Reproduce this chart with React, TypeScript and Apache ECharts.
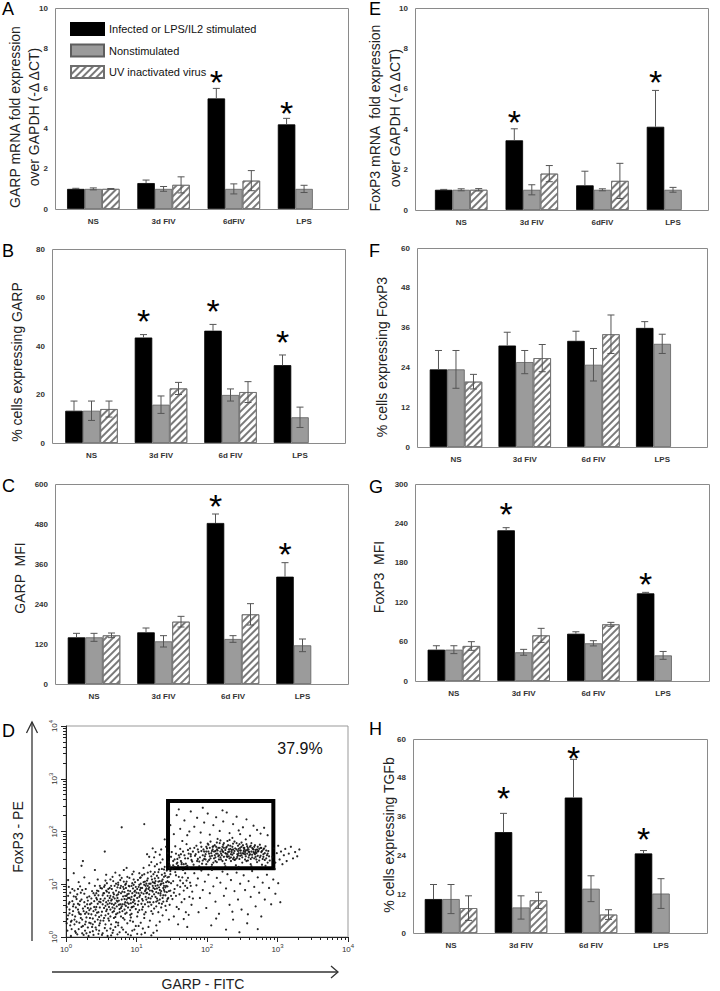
import React, { useEffect, useRef } from "react";
import * as echarts from "echarts";

const FONT = "'Liberation Sans', Arial, sans-serif";

// ---------- shared names ----------
const SERIES_NAMES = ["Infected or LPS/IL2 stimulated", "Nonstimulated", "UV inactivated virus"];
const CATS_MRNA = ["NS", "3d FIV", "6dFIV", "LPS"];
const CATS_FLOW = ["NS", "3d FIV", "6d FIV", "LPS"];

// ---------- A: GARP mRNA ----------
const garpMrnaInfected = [1.0, 1.29, 5.5, 4.21];
const garpMrnaInfectedErr = [0.03, 0.15, 0.5, 0.3];
const garpMrnaNonstim = [1.0, 1.0, 1.0, 1.0];
const garpMrnaNonstimErr = [0.05, 0.12, 0.25, 0.18];
const garpMrnaUV: (number | string)[] = [1.0, 1.2, 1.41, "-"];
const garpMrnaUVErr = [0.02, 0.4, 0.5, 0];
const garpMrnaStars: (number | string)[] = ["-", "-", 6.67, 5.17];

// ---------- E: FoxP3 mRNA ----------
const foxp3MrnaInfected = [1.0, 3.45, 1.22, 4.12];
const foxp3MrnaInfectedErr = [0.02, 0.57, 0.7, 1.8];
const foxp3MrnaNonstim = [1.0, 1.0, 1.0, 1.0];
const foxp3MrnaNonstimErr = [0.05, 0.25, 0.05, 0.12];
const foxp3MrnaUV: (number | string)[] = [1.0, 1.8, 1.44, "-"];
const foxp3MrnaUVErr = [0.06, 0.4, 0.87, 0];
const foxp3MrnaStars: (number | string)[] = ["-", 4.71, "-", 6.69];

// ---------- B: % cells expressing GARP ----------
const garpPctInfected = [13.3, 43.5, 46.3, 32.1];
const garpPctInfectedErr = [4.0, 1.2, 2.6, 4.2];
const garpPctNonstim = [13.3, 15.8, 19.8, 10.6];
const garpPctNonstimErr = [4.0, 3.6, 2.5, 4.2];
const garpPctUV: (number | string)[] = [14.0, 22.5, 21.0, "-"];
const garpPctUVErr = [3.3, 2.5, 4.3, 0];
const garpPctStars: (number | string)[] = ["-", 53.5, 57.6, 44.8];

// ---------- F: % cells expressing FoxP3 ----------
const foxp3PctInfected = [23.4, 30.6, 32.0, 35.9];
const foxp3PctInfectedErr = [5.7, 4.0, 2.9, 1.9];
const foxp3PctNonstim = [23.4, 25.6, 24.8, 31.1];
const foxp3PctNonstimErr = [5.7, 3.5, 4.9, 2.9];
const foxp3PctUV: (number | string)[] = [19.7, 26.8, 34.0, "-"];
const foxp3PctUVErr = [2.2, 4.1, 5.8, 0];

// ---------- C: GARP MFI ----------
const garpMfiInfected = [140, 155, 483, 322];
const garpMfiInfectedErr = [12, 13, 27, 42];
const garpMfiNonstim = [140, 128, 135, 116];
const garpMfiNonstimErr = [12, 17, 10, 19];
const garpMfiUV: (number | string)[] = [146, 187, 209, "-"];
const garpMfiUVErr = [7, 16, 32, 0];
const garpMfiStars: (number | string)[] = ["-", "-", 557, 412];

// ---------- G: FoxP3 MFI ----------
const foxp3MfiInfected = [47.7, 229.5, 72, 133.5];
const foxp3MfiInfectedErr = [6, 4, 3, 1.5];
const foxp3MfiNonstim = [47.7, 43.7, 57.4, 39];
const foxp3MfiNonstimErr = [6, 4.5, 4, 6];
const foxp3MfiUV: (number | string)[] = [53.3, 69.5, 86.3, "-"];
const foxp3MfiUVErr = [6.6, 10.7, 3, 0];
const foxp3MfiStars: (number | string)[] = ["-", 265, "-", 159];

// ---------- H: % cells expressing TGFb ----------
const tgfbPctInfected = [10.5, 31.2, 41.9, 24.6];
const tgfbPctInfectedErr = [4.5, 5.8, 11.8, 0.9];
const tgfbPctNonstim = [10.5, 7.9, 13.7, 12.2];
const tgfbPctNonstimErr = [4.5, 3.6, 4.0, 4.6];
const tgfbPctUV: (number | string)[] = [7.7, 10.1, 5.7, "-"];
const tgfbPctUVErr = [3.8, 2.5, 1.5, 0];
const tgfbPctStars: (number | string)[] = ["-", 44.0, 56.4, 31.3];

// ---------- D: flow cytometry dot plot (log10 of GARP-FITC, log10 of FoxP3-PE) ----------
const facsTicks = [1, 10, 100, 1000, 10000];
const gateGarp = [28, 873];
const gateFoxp3 = [20, 378];
const gatePercent = "37.9%";
const facsEventsLog: number[][] = [
  [0.02,0.12],[0.05,0.45],[0.03,0.78],[0.08,0.31],[0.11,0.62],[0.04,0.95],[0.14,0.08],[0.17,0.52],[0.12,0.88],[0.19,0.27],
  [0.22,0.71],[0.25,0.04],[0.21,0.43],[0.28,0.91],[0.31,0.18],[0.27,0.58],[0.34,0.36],[0.33,0.77],[0.38,0.11],[0.36,0.64],
  [0.41,0.29],[0.43,0.83],[0.39,0.49],[0.46,0.06],[0.48,0.56],[0.44,0.71],[0.47,0.22],[0.49,0.93],[0.06,0.22],[0.09,0.68],
  [0.13,0.39],[0.16,0.81],[0.18,0.15],[0.23,0.33],[0.26,0.66],[0.29,0.47],[0.32,0.02],[0.35,0.54],[0.37,0.87],[0.42,0.41],
  [0.45,0.63],[0.01,0.57],[0.07,0.02],[0.10,0.49],[0.15,0.72],[0.20,0.96],[0.24,0.21],[0.30,0.75],[0.33,0.27],[0.40,0.68],
  [0.43,0.14],[0.47,0.38],[0.02,0.34],[0.12,0.24],[0.17,0.63],[0.21,0.84],[0.27,0.12],[0.31,0.55],[0.36,0.43],[0.41,0.97],
  [0.46,0.79],[0.49,0.31],[0.05,0.66],[0.09,0.91],[0.14,0.56],[0.19,0.44],[0.23,0.07],[0.29,0.37],[0.34,0.62],[0.38,0.24],
  [0.03,1.08],[0.11,1.21],[0.18,1.04],[0.26,1.13],[0.33,1.02],[0.41,1.27],[0.45,1.09],[0.22,1.35],
  [0.51,0.48],[0.53,0.83],[0.55,0.17],[0.57,0.66],[0.58,1.02],[0.60,0.35],[0.62,0.74],[0.63,0.52],[0.65,0.91],[0.66,0.08],
  [0.68,0.61],[0.69,0.97],[0.71,0.43],[0.72,0.79],[0.74,0.27],[0.75,0.69],[0.77,1.08],[0.78,0.55],[0.80,0.86],[0.81,0.14],
  [0.83,0.72],[0.84,0.99],[0.86,0.46],[0.87,0.81],[0.89,0.63],[0.90,1.12],[0.92,0.37],[0.93,0.76],[0.95,0.92],[0.96,0.58],
  [0.98,1.04],[0.99,0.21],[0.52,0.62],[0.54,0.95],[0.56,0.41],[0.59,0.78],[0.61,0.57],[0.64,0.24],[0.67,0.84],[0.70,0.64],
  [0.73,0.94],[0.76,0.47],[0.79,0.71],[0.82,1.05],[0.85,0.59],[0.88,0.88],[0.91,0.51],[0.94,0.83],[0.97,0.69],[0.99,0.95],
  [0.53,0.31],[0.57,0.88],[0.60,0.69],[0.63,1.09],[0.66,0.47],[0.69,0.73],[0.72,0.58],[0.75,0.85],[0.78,0.39],[0.81,0.95],
  [0.84,0.66],[0.87,1.14],[0.90,0.74],[0.93,0.44],[0.96,1.09],[0.98,0.79],[0.55,0.73],[0.58,0.12],[0.62,0.93],[0.65,0.63],
  [0.68,0.36],[0.71,1.01],[0.74,0.81],[0.77,0.62],[0.80,0.49],[0.83,0.85],[0.86,0.71],[0.89,0.97],[0.92,0.64],[0.95,0.29],
  [0.97,0.86],[0.51,0.04],[0.64,0.03],[0.76,0.09],[0.88,0.05],[0.57,1.18],[0.70,1.22],[0.82,1.27],[0.94,1.19],[0.86,1.31],
  [0.60,0.91],[0.73,0.67],[0.85,0.93],[0.67,0.76],[0.79,1.12],[0.91,0.87],[0.54,0.55],[0.70,0.19],[0.83,0.33],[0.96,0.71],
  [1.01,0.74],[1.02,1.08],[1.04,0.51],[1.05,0.89],[1.07,0.63],[1.08,1.17],[1.10,0.82],[1.11,0.36],[1.13,0.97],[1.14,0.71],
  [1.16,1.11],[1.17,0.58],[1.19,0.88],[1.20,1.24],[1.22,0.77],[1.23,0.44],[1.25,1.03],[1.26,0.91],[1.28,0.67],[1.29,1.16],
  [1.31,0.83],[1.32,1.28],[1.34,0.99],[1.35,0.56],[1.37,1.09],[1.38,0.79],[1.40,1.21],[1.41,0.94],[1.43,0.68],[1.44,1.13],
  [1.46,0.87],[1.47,1.31],[1.49,1.02],[1.03,0.95],[1.06,0.27],[1.09,0.69],[1.12,1.05],[1.15,0.84],[1.18,1.01],[1.21,0.61],
  [1.24,1.19],[1.27,0.76],[1.30,0.98],[1.33,0.71],[1.36,1.18],[1.39,0.89],[1.42,1.04],[1.45,0.74],[1.48,1.19],[1.02,0.61],
  [1.05,0.79],[1.08,0.93],[1.11,1.19],[1.14,0.92],[1.17,0.74],[1.20,1.01],[1.23,0.86],[1.26,1.11],[1.29,0.92],[1.32,0.64],
  [1.35,0.87],[1.38,1.02],[1.41,0.79],[1.44,0.96],[1.47,0.61],[1.04,1.21],[1.10,1.31],[1.18,1.36],[1.26,1.34],[1.34,1.41],
  [1.09,0.16],[1.19,0.31],[1.28,0.22],[1.37,0.41],[1.46,0.33],[1.13,0.47],[1.25,0.54],[1.42,0.51],[1.06,1.01],[1.16,0.97],
  [1.22,1.09],[1.31,1.05],[1.39,1.14],[1.48,0.88],[1.12,0.87],[1.27,0.97],[1.43,1.26],[1.07,0.05],[1.24,0.08],[1.36,0.63],
  [1.51,0.72],[1.52,1.06],[1.54,0.91],[1.55,1.23],[1.57,0.57],[1.58,0.98],[1.60,1.14],[1.61,0.81],[1.63,1.29],[1.64,0.66],
  [1.66,1.02],[1.67,0.88],[1.69,1.21],[1.70,0.47],[1.72,0.93],[1.73,1.12],[1.75,0.76],[1.76,1.03],[1.78,0.61],[1.79,0.86],
  [1.53,0.39],[1.56,0.78],[1.59,0.24],[1.62,0.95],[1.65,1.13],[1.68,0.72],[1.71,1.07],[1.74,0.42],[1.77,0.97],[1.80,0.73],
  [1.52,1.36],[1.58,1.41],[1.64,1.38],[1.53,0.84],[1.60,0.53],[1.67,0.34],[1.72,0.19],[1.56,1.17],[1.62,1.07],[1.69,0.97],
  [1.21,1.42],[1.25,1.51],[1.29,1.38],[1.33,1.56],[1.37,1.47],[1.40,1.33],[1.44,1.59],[1.46,1.42],[1.49,1.52],[1.51,1.29],
  [1.54,1.47],[1.56,1.58],[1.59,1.35],[1.61,1.51],[1.63,1.44],[1.66,1.27],[1.68,1.55],[1.70,1.39],[1.73,1.49],[1.75,1.31],
  [1.77,1.57],[1.79,1.43],[1.31,1.23],[1.39,1.28],[1.48,1.25],[1.27,1.61],[1.35,1.66],[1.42,1.71],[1.18,1.52],[1.23,1.68],
  [1.47,1.36],[1.50,1.61],[1.52,1.44],[1.55,1.72],[1.57,1.39],[1.60,1.55],[1.62,1.67],[1.64,1.41],[1.66,1.62],[1.69,1.49],
  [1.71,1.76],[1.72,1.35],[1.74,1.58],[1.76,1.68],[1.78,1.46],[1.80,1.62],[1.81,1.37],[1.83,1.54],[1.85,1.73],[1.86,1.44],
  [1.88,1.61],[1.90,1.51],[1.91,1.79],[1.93,1.39],[1.95,1.66],[1.96,1.48],[1.98,1.57],[1.99,1.71],[2.01,1.43],[2.02,1.62],
  [2.04,1.53],[2.05,1.81],[2.07,1.37],[2.08,1.66],[2.10,1.49],[2.11,1.74],[2.13,1.58],[2.14,1.42],[2.16,1.69],[2.17,1.55],
  [2.19,1.83],[2.20,1.47],[2.22,1.63],[2.23,1.75],[2.25,1.39],[2.26,1.59],[2.28,1.71],[2.29,1.52],[2.31,1.66],[2.32,1.84],
  [2.34,1.44],[2.35,1.61],[2.37,1.77],[2.38,1.51],[2.40,1.68],[2.41,1.36],[2.43,1.57],[2.44,1.73],[2.46,1.48],[2.47,1.64],
  [2.49,1.79],[2.50,1.41],[2.52,1.58],[2.53,1.69],[2.55,1.53],[2.56,1.76],[2.58,1.45],[2.59,1.62],[2.61,1.71],[2.62,1.38],
  [2.64,1.56],[2.65,1.67],[2.67,1.49],[2.68,1.74],[2.70,1.59],[2.71,1.42],[2.73,1.63],[2.75,1.51],[2.76,1.69],[2.78,1.37],
  [2.80,1.57],[2.82,1.46],[2.84,1.64],[2.86,1.41],[2.88,1.53],
  [1.97,1.53],[2.00,1.68],[2.03,1.46],[2.06,1.59],[2.09,1.72],[2.12,1.51],[2.15,1.64],[2.18,1.78],[2.21,1.55],[2.24,1.69],
  [2.27,1.46],[2.30,1.61],[2.33,1.73],[2.36,1.56],[2.39,1.81],[2.42,1.49],[2.45,1.67],[2.48,1.59],[2.51,1.74],[2.54,1.47],
  [2.57,1.65],[2.60,1.55],[2.63,1.78],[2.66,1.61],[2.69,1.52],[2.72,1.71],[2.74,1.45],[2.77,1.61],[2.81,1.68],[2.85,1.55],
  [2.02,1.75],[2.07,1.54],[2.12,1.63],[2.17,1.47],[2.22,1.71],[2.27,1.58],[2.32,1.49],[2.37,1.66],[2.42,1.78],[2.47,1.54],
  [2.52,1.63],[2.57,1.72],[2.62,1.48],[2.67,1.59],[2.72,1.54],[2.79,1.48],[2.83,1.72],[2.87,1.63],[1.58,1.48],[1.63,1.57],
  [1.67,1.38],[1.73,1.65],[1.77,1.53],[1.82,1.69],[1.87,1.48],[1.92,1.63],[1.94,1.45],[1.99,1.38],[2.04,1.69],[2.09,1.41],
  [2.14,1.79],[2.19,1.62],[2.24,1.52],[2.29,1.82],[2.34,1.57],[2.39,1.46],[2.44,1.63],[2.49,1.71],[2.54,1.61],[2.59,1.51],
  [2.64,1.69],[2.69,1.65],[2.75,1.75],[2.80,1.66],[2.89,1.45],[1.54,1.33],[1.70,1.33],[1.89,1.34],[2.06,1.33],[2.26,1.34],
  [2.45,1.33],[2.63,1.34],[2.83,1.35],[2.15,1.86],[2.36,1.88],[2.55,1.85],
  [1.48,2.12],[1.53,1.95],[1.57,2.31],[1.62,2.05],[1.68,2.21],[1.72,1.93],[1.77,2.38],[1.82,2.09],[1.86,2.26],[1.91,1.98],
  [1.96,2.17],[2.01,2.34],[2.04,1.94],[2.09,2.12],[2.13,2.27],[2.18,2.01],[2.23,2.19],[2.28,2.36],[2.32,1.97],[2.37,2.14],
  [2.42,2.28],[2.47,1.95],[2.51,2.08],[2.56,2.23],[2.61,1.92],[2.66,2.11],[2.71,2.03],[2.76,1.96],[2.81,2.07],[2.86,1.93],
  [1.60,2.42],[1.94,2.45],[2.22,2.40],[1.75,2.00],[2.45,2.02],
  [2.93,1.52],[2.95,1.68],[2.97,1.41],[2.99,1.59],[3.01,1.73],[3.03,1.47],[3.05,1.62],[3.07,1.38],[3.09,1.55],[3.11,1.67],
  [3.13,1.44],[3.16,1.58],[3.19,1.71],[3.22,1.49],[3.25,1.61],[3.28,1.53],[3.31,1.66],[2.96,1.29],
  [1.82,1.21],[1.85,0.98],[1.87,1.11],[1.90,0.74],[1.92,1.26],[1.94,0.89],[1.97,1.05],[1.99,0.55],[2.02,1.18],[2.04,0.83],
  [2.07,1.27],[2.09,0.96],[2.12,0.67],[2.14,1.12],[2.17,0.44],[2.19,1.03],[2.22,1.24],[2.24,0.78],[2.27,0.92],[2.29,1.19],
  [2.32,0.61],[2.34,1.08],[2.37,0.33],[2.39,0.87],[2.42,1.22],[2.44,0.71],[2.47,1.01],[2.49,0.52],[2.52,1.17],[2.54,0.89],
  [2.57,0.26],[2.59,1.06],[2.62,0.76],[2.64,1.25],[2.67,0.95],[2.69,0.58],[2.72,1.13],[2.74,0.84],[2.77,0.39],[2.79,1.03],
  [2.82,0.71],[2.85,1.18],[2.88,0.93],[2.91,0.62],[2.94,1.09],[2.97,0.82],[3.01,1.02],[3.04,0.66],[1.88,0.47],[2.06,0.22],
  [2.27,0.14],[2.46,0.09],[2.58,0.43],[2.13,0.35],[2.36,0.48],
  [0.79,2.08],[1.11,2.14],[0.55,1.62],[0.24,1.44],[1.65,1.82],[1.40,1.85],[1.15,1.57],[2.72,0.15],
  [0.42,0.52],[0.44,0.88],[0.47,0.67],[0.50,0.41],[0.52,0.79],[0.55,0.98],[0.57,0.49],[0.59,0.62],[0.61,0.84],[0.63,0.39],
  [0.65,0.71],[0.67,1.06],[0.69,0.54],[0.71,0.88],[0.73,0.45],[0.75,0.61],[0.77,0.93],[0.79,0.58],[0.81,0.77],[0.83,0.52],
  [0.85,1.01],[0.87,0.65],[0.89,0.82],[0.91,0.42],[0.93,0.97],[0.95,0.66],[0.97,0.78],[0.99,0.53],[1.01,0.91],[1.03,0.68],
  [1.05,1.12],[1.07,0.84],[1.09,0.57],[1.11,0.99],[1.13,0.76],[1.15,1.07],[1.17,0.91],[1.19,0.66],[1.21,1.15],[1.23,0.97],
  [1.25,0.81],[1.27,1.06],[1.29,0.73],[1.31,1.12],[1.33,0.89],[1.35,1.01],[1.37,0.74],[1.39,0.97],[1.41,1.16],[1.43,0.85],
  [0.46,0.47],[0.49,0.72],[0.51,0.92],[0.54,0.36],[0.56,0.59],[0.58,0.86],[0.60,0.44],[0.62,0.64],[0.64,0.97],[0.66,0.56],
  [0.68,0.81],[0.70,0.38],[0.72,0.69],[0.74,1.03],[0.76,0.53],[0.78,0.83],[0.80,0.62],[0.82,0.91],[0.84,0.44],[0.86,0.78],
  [0.88,0.56],[0.90,0.96],[0.92,0.71],[0.94,0.57],[0.96,0.99],[0.98,0.63],[1.00,0.84],[1.02,0.47],[1.04,0.76],[1.06,0.93],
  [1.08,0.72],[1.10,1.04],[1.12,0.62],[1.14,0.83],[1.16,0.66],[1.18,0.94],[1.20,0.73],[1.22,0.88],[1.24,0.66],[1.26,1.02],
  [1.28,0.85],[1.30,0.69],[1.32,0.94],[1.34,0.79],[1.36,1.06],[1.38,0.67],[1.40,0.86],[1.42,0.97],[1.44,0.72],[1.46,1.04],
  [0.43,0.74],[0.48,0.97],[0.53,0.69],[0.58,0.52],[0.63,0.78],[0.68,0.49],[0.73,0.74],[0.78,0.97],[0.83,0.62],[0.88,0.74],
  [0.93,0.56],[0.98,0.88],[1.03,0.83],[1.08,0.52],[1.13,0.89],[1.18,0.81],[1.23,1.04],[1.28,0.58],[1.33,1.06],[1.38,0.93],
  [0.61,0.31],[0.71,0.28],[0.81,0.36],[0.91,0.31],[1.01,0.39],[1.11,0.43],[1.21,0.49],[1.31,0.47],[1.41,0.59],[1.49,0.78],
  [0.66,1.14],[0.76,1.17],[0.86,1.05],[0.96,1.24],[1.06,1.13],[1.16,1.22],[1.26,1.23],[1.36,1.29],[1.46,1.14],[0.56,1.07],
  [0.94,1.02],[1.04,0.99],[0.74,0.99],[0.84,0.78],[1.14,1.01],[1.24,0.93],[0.64,0.69],[0.54,0.83],[1.34,0.83],[1.44,1.06],
  [0.03,0.41],[0.06,0.84],[0.08,0.15],[0.10,0.58],[0.12,0.33],[0.14,0.76],[0.16,0.05],[0.18,0.47],[0.20,0.68],[0.22,0.19],
  [0.24,0.54],[0.26,0.82],[0.28,0.29],[0.30,0.62],[0.32,0.44],[0.34,0.09],[0.36,0.73],[0.38,0.35],[0.40,0.57],[0.42,0.18],
  [0.44,0.46],[0.46,0.87],[0.48,0.26],[0.04,0.63],[0.07,0.29],[0.13,0.11],[0.17,0.91],[0.21,0.36],[0.25,0.49],[0.29,0.07],
  [0.33,0.51],[0.37,0.19],[0.41,0.79],[0.45,0.33],[0.49,0.66],[0.01,0.26],[0.09,0.42],[0.15,0.29],[0.19,0.61],[0.23,0.89],
  [0.27,0.44],[0.31,0.69],[0.35,0.26],[0.39,0.83],[0.43,0.57],[0.47,0.12],[0.11,0.77],[0.27,0.24],[0.39,0.04],[0.05,0.52],
  [0.52,0.07],[0.59,0.02],[0.67,0.13],[0.73,0.05],[0.79,0.18],[0.85,0.09],[0.92,0.03],[0.97,0.14],[1.03,0.21],[1.12,0.08],
  [1.17,0.19],[1.21,0.03],[1.29,0.12],[1.33,0.29],[0.56,0.24],[0.63,0.16],[0.74,0.22],[0.87,0.26],[0.94,0.12],[1.01,0.06],
  [1.84,1.57],[1.87,1.66],[1.89,1.43],[1.92,1.71],[1.94,1.55],[1.96,1.62],[1.98,1.47],[2.01,1.77],[2.03,1.58],[2.05,1.49],
  [2.08,1.71],[2.10,1.62],[2.12,1.44],[2.14,1.66],[2.16,1.53],[2.18,1.69],[2.20,1.58],[2.22,1.44],[2.24,1.78],[2.26,1.65],
  [2.28,1.53],[2.30,1.74],[2.32,1.62],[2.34,1.51],[2.36,1.71],[2.38,1.59],[2.40,1.47],[2.42,1.66],[2.44,1.55],[2.46,1.76],
  [2.48,1.64],[2.50,1.51],[2.52,1.69],[2.54,1.57],[2.56,1.44],[2.58,1.69],[2.60,1.61],[2.62,1.73],[2.64,1.51],[2.66,1.66],
  [2.68,1.57],[2.70,1.47],[2.72,1.62],[2.74,1.67],[2.76,1.54],[2.78,1.63],[2.80,1.52],[2.82,1.59],[2.84,1.49],[2.86,1.58],
  [2.11,1.55],[2.19,1.51],[2.27,1.69],[2.35,1.65],[2.43,1.52],[2.51,1.59],[2.59,1.66],[2.67,1.71],[2.13,1.71],[2.21,1.66],
  [2.29,1.57],[2.37,1.48],[2.45,1.59],[2.53,1.66],[2.61,1.57],[2.69,1.61],[2.77,1.69],[2.07,1.63],[2.23,1.61],[2.31,1.53],
  [2.39,1.63],[2.47,1.69],[2.55,1.64],[2.63,1.62],[2.71,1.66],[1.99,1.62],[2.15,1.58],[2.33,1.67],[2.49,1.55],[2.57,1.58]
];

// ---------- layout / style (not data) ----------
const BAR_W = 17.5;
const STAR_FS = 34;

type Panel = {
  id: string;
  cats: string[];
  vals: (number | string)[][];
  errs: number[][];
  stars?: (number | string)[];
  max: number;
  step: number;
  frame: number[]; // l, t, r, b
  grid: number[]; // left, width
  title: string[];
  titleX: number[];
  titleY: number;
  letterPos: number[];
};

const PANELS: Panel[] = [
  {
    id: "A", cats: CATS_MRNA,
    vals: [garpMrnaInfected, garpMrnaNonstim, garpMrnaUV],
    errs: [garpMrnaInfectedErr, garpMrnaNonstimErr, garpMrnaUVErr],
    stars: garpMrnaStars, max: 10, step: 2,
    frame: [55, 8, 348, 209], grid: [58.2, 281],
    title: ["GARP mRNA fold expression", "over GAPDH (-Δ ΔCT)"], titleX: [15, 34], titleY: 117,
    letterPos: [2, 0],
  },
  {
    id: "B", cats: CATS_FLOW,
    vals: [garpPctInfected, garpPctNonstim, garpPctUV],
    errs: [garpPctInfectedErr, garpPctNonstimErr, garpPctUVErr],
    stars: garpPctStars, max: 80, step: 20,
    frame: [52, 249, 345, 443], grid: [56.75, 278],
    title: ["% cells expressing GARP"], titleX: [17], titleY: 362,
    letterPos: [2, 242],
  },
  {
    id: "C", cats: CATS_FLOW,
    vals: [garpMfiInfected, garpMfiNonstim, garpMfiUV],
    errs: [garpMfiInfectedErr, garpMfiNonstimErr, garpMfiUVErr],
    stars: garpMfiStars, max: 600, step: 120,
    frame: [55, 484, 348, 684], grid: [59.25, 278],
    title: ["GARP  MFI"], titleX: [20], titleY: 578,
    letterPos: [2, 477],
  },
  {
    id: "E", cats: CATS_MRNA,
    vals: [foxp3MrnaInfected, foxp3MrnaNonstim, foxp3MrnaUV],
    errs: [foxp3MrnaInfectedErr, foxp3MrnaNonstimErr, foxp3MrnaUVErr],
    stars: foxp3MrnaStars, max: 10, step: 2,
    frame: [415, 8, 708, 210], grid: [425.9, 282.4],
    title: ["FoxP3 mRNA  fold expression", "over GAPDH (-Δ ΔCT)"], titleX: [375, 395], titleY: 118,
    letterPos: [369, 0],
  },
  {
    id: "F", cats: CATS_FLOW,
    vals: [foxp3PctInfected, foxp3PctNonstim, foxp3PctUV],
    errs: [foxp3PctInfectedErr, foxp3PctNonstimErr, foxp3PctUVErr],
    max: 60, step: 12,
    frame: [417, 248, 707, 447], grid: [421.6, 275],
    title: ["% cells expressing FoxP3"], titleX: [382], titleY: 357,
    letterPos: [369, 242],
  },
  {
    id: "G", cats: CATS_FLOW,
    vals: [foxp3MfiInfected, foxp3MfiNonstim, foxp3MfiUV],
    errs: [foxp3MfiInfectedErr, foxp3MfiNonstimErr, foxp3MfiUVErr],
    stars: foxp3MfiStars, max: 300, step: 60,
    frame: [415, 484, 709, 681], grid: [419, 279],
    title: ["FoxP3  MFI"], titleX: [379], titleY: 577,
    letterPos: [369, 478],
  },
  {
    id: "H", cats: CATS_FLOW,
    vals: [tgfbPctInfected, tgfbPctNonstim, tgfbPctUV],
    errs: [tgfbPctInfectedErr, tgfbPctNonstimErr, tgfbPctUVErr],
    stars: tgfbPctStars, max: 60, step: 12,
    frame: [413, 739, 707, 933], grid: [416, 280],
    title: ["% cells expressing TGFb"], titleX: [389], titleY: 835,
    letterPos: [369, 720],
  },
];

const BAR_STYLES: any[] = [
  { color: "#000", borderColor: "#000", borderWidth: 0.8 },
  { color: "#9b9b9b", borderColor: "#5e5e5e", borderWidth: 0.8 },
  {
    color: "#ffffff", borderColor: "#6e6e6e", borderWidth: 0.8,
    decal: { symbol: "rect", symbolSize: 1, dashArrayX: [1, 0], dashArrayY: [1.1, 2.3], rotation: -Math.PI / 4, color: "#7a7a7a" },
  },
];

const renderErr = (params: any, api: any) => {
  const j = api.value(0), v = api.value(1), e = api.value(2), s = api.value(3);
  const mid = api.coord([j, v]);
  const top = api.coord([j, v + e]);
  const bot = api.coord([j, v - e]);
  const x = mid[0] + (s - 1) * BAR_W;
  const st = { stroke: "#555", lineWidth: 1 };
  const children: any[] = [
    { type: "line", shape: { x1: x, y1: s === 0 ? mid[1] : bot[1], x2: x, y2: top[1] }, style: st },
    { type: "line", shape: { x1: x - 3.5, y1: top[1], x2: x + 3.5, y2: top[1] }, style: st },
  ];
  if (s !== 0) children.push({ type: "line", shape: { x1: x - 3.5, y1: bot[1], x2: x + 3.5, y2: bot[1] }, style: st });
  return { type: "group", children };
};

const renderStar = (params: any, api: any) => {
  const c = api.coord([api.value(0), api.value(1)]);
  return {
    type: "text", x: c[0] - BAR_W, y: c[1] + STAR_FS * 0.22,
    style: { text: "*", fontSize: STAR_FS, fontFamily: FONT, fill: "#000", align: "center", verticalAlign: "middle" },
  };
};

const tickLabel = { fontSize: 8, fontWeight: "bold", color: "#333", fontFamily: FONT };

function buildOption(): any {
  const grids: any[] = [], xAxes: any[] = [], yAxes: any[] = [], series: any[] = [], graphics: any[] = [];
  PANELS.forEach((p, i) => {
    const [fl, ft, fr, fb] = p.frame;
    const [gl, gw] = p.grid;
    grids.push({ left: gl, top: ft, width: gw, height: fb - ft });
    xAxes.push({
      type: "category", gridIndex: i, data: p.cats,
      axisLine: { show: false }, axisTick: { show: false },
      axisLabel: { ...tickLabel, interval: 0, margin: 8 },
    });
    yAxes.push({
      type: "value", gridIndex: i, min: 0, max: p.max, interval: p.step,
      axisLine: { show: false }, axisTick: { show: false }, splitLine: { show: false },
      axisLabel: { ...tickLabel, margin: gl - fl + 7 },
    });
    p.vals.forEach((vals, s) => {
      series.push({
        type: "bar", name: SERIES_NAMES[s], xAxisIndex: i, yAxisIndex: i, data: vals,
        barWidth: BAR_W, barGap: "0%", itemStyle: BAR_STYLES[s], silent: true,
      });
    });
    const errData: number[][] = [];
    p.vals.forEach((vals, s) => {
      vals.forEach((v, j) => {
        if (typeof v === "number") errData.push([j, v, p.errs[s][j], s]);
      });
    });
    series.push({ type: "custom", name: "err" + p.id, xAxisIndex: i, yAxisIndex: i, data: errData, renderItem: renderErr, z: 3, silent: true });
    if (p.stars) {
      const starData: number[][] = [];
      p.stars.forEach((v, j) => { if (typeof v === "number") starData.push([j, v]); });
      series.push({ type: "custom", name: "star" + p.id, xAxisIndex: i, yAxisIndex: i, data: starData, renderItem: renderStar, z: 4, silent: true });
    }
    graphics.push({
      type: "rect", silent: true, z: 5,
      shape: { x: fl + 0.5, y: ft + 0.5, width: fr - fl, height: fb - ft },
      style: { fill: "none", stroke: "#8a8a8a", lineWidth: 1 },
    });
    graphics.push({
      type: "text", silent: true, x: p.letterPos[0], y: p.letterPos[1],
      style: { text: p.id, fontSize: 18, fontFamily: FONT, fill: "#000", align: "left", verticalAlign: "top" },
    });
    p.title.forEach((t, k) => {
      graphics.push({
        type: "text", silent: true, x: p.titleX[k], y: p.titleY, rotation: Math.PI / 2,
        style: { text: t, fontSize: 14, fontFamily: FONT, fill: "#222", align: "center", verticalAlign: "middle" },
      });
    });
  });

  // ----- panel D -----
  const d = PANELS.length;
  grids.push({ left: 66, top: 726, width: 282, height: 211, show: true, borderColor: "#999", borderWidth: 1 });
  const logFmt = (v: number) => `{b|10}{s|${Math.round(Math.log10(v))}}`;
  const rich = {
    b: { fontSize: 8, color: "#333", fontFamily: FONT },
    s: { fontSize: 6, color: "#333", fontFamily: FONT, padding: [0, 0, 6, 0] },
  };
  const logAxis = {
    type: "log", logBase: 10, gridIndex: d, min: facsTicks[0], max: facsTicks[facsTicks.length - 1],
    axisLine: { lineStyle: { color: "#222", width: 1 } },
    axisTick: { show: true, length: 5, lineStyle: { color: "#222" } },
    minorTick: { show: true, splitNumber: 9, length: 3, lineStyle: { color: "#222" } },
    splitLine: { show: false }, minorSplitLine: { show: false },
  };
  xAxes.push({ ...logAxis, axisLabel: { formatter: logFmt, rich, margin: 6 } });
  yAxes.push({ ...logAxis, axisLabel: { formatter: logFmt, rich, margin: 6, rotate: 90 } });
  series.push({
    type: "scatter", name: "events", xAxisIndex: d, yAxisIndex: d, silent: true,
    data: facsEventsLog.map(([a, b]) => [Math.pow(10, a), Math.pow(10, b)]),
    symbolSize: 2.2, itemStyle: { color: "#111", opacity: 0.9 },
    markArea: {
      silent: true,
      itemStyle: { color: "rgba(0,0,0,0)", borderColor: "#000", borderWidth: 4 },
      data: [[{ coord: [gateGarp[0], gateFoxp3[1]] }, { coord: [gateGarp[1], gateFoxp3[0]] }]],
    },
  });
  graphics.push(
    { type: "text", silent: true, x: 2, y: 722, style: { text: "D", fontSize: 18, fontFamily: FONT, fill: "#000", align: "left", verticalAlign: "top" } },
    { type: "text", silent: true, x: 300, y: 748, style: { text: gatePercent, fontSize: 16, fontFamily: FONT, fill: "#111", align: "center", verticalAlign: "middle" } },
    { type: "text", silent: true, x: 18, y: 837, rotation: Math.PI / 2, style: { text: "FoxP3 - PE", fontSize: 14, fontFamily: FONT, fill: "#222", align: "center", verticalAlign: "middle" } },
    { type: "text", silent: true, x: 203, y: 984, style: { text: "GARP - FITC", fontSize: 14, fontFamily: FONT, fill: "#222", align: "center", verticalAlign: "middle" } },
    { type: "line", silent: true, shape: { x1: 32, y1: 941, x2: 32, y2: 722 }, style: { stroke: "#333", lineWidth: 1.3 } },
    { type: "polyline", silent: true, shape: { points: [[26.5, 733], [32, 722], [37.5, 733]] }, style: { stroke: "#333", lineWidth: 1.3, fill: "none" } },
    { type: "line", silent: true, shape: { x1: 52, y1: 972, x2: 338, y2: 972 }, style: { stroke: "#333", lineWidth: 1.3 } },
    { type: "polyline", silent: true, shape: { points: [[331, 966], [338, 972], [331, 978]] }, style: { stroke: "#333", lineWidth: 1.3, fill: "none" } },
  );

  return {
    animation: false,
    backgroundColor: "#fff",
    textStyle: { fontFamily: FONT },
    legend: {
      data: SERIES_NAMES, left: 65, top: 17, orient: "vertical",
      itemWidth: 33, itemHeight: 12, itemGap: 7.5, icon: "rect", selectedMode: false,
      textStyle: { fontSize: 11, color: "#111", fontFamily: FONT },
    },
    grid: grids,
    xAxis: xAxes,
    yAxis: yAxes,
    series,
    graphic: graphics,
  };
}

export default function App() {
  const ref = useRef<HTMLDivElement>(null);
  useEffect(() => {
    if (!ref.current) return;
    const chart = echarts.init(ref.current, null, { renderer: "svg" });
    chart.setOption(buildOption());
    return () => chart.dispose();
  }, []);
  return <div ref={ref} style={{ position: "absolute", left: 0, top: 0, width: 720, height: 991 }} />;
}
